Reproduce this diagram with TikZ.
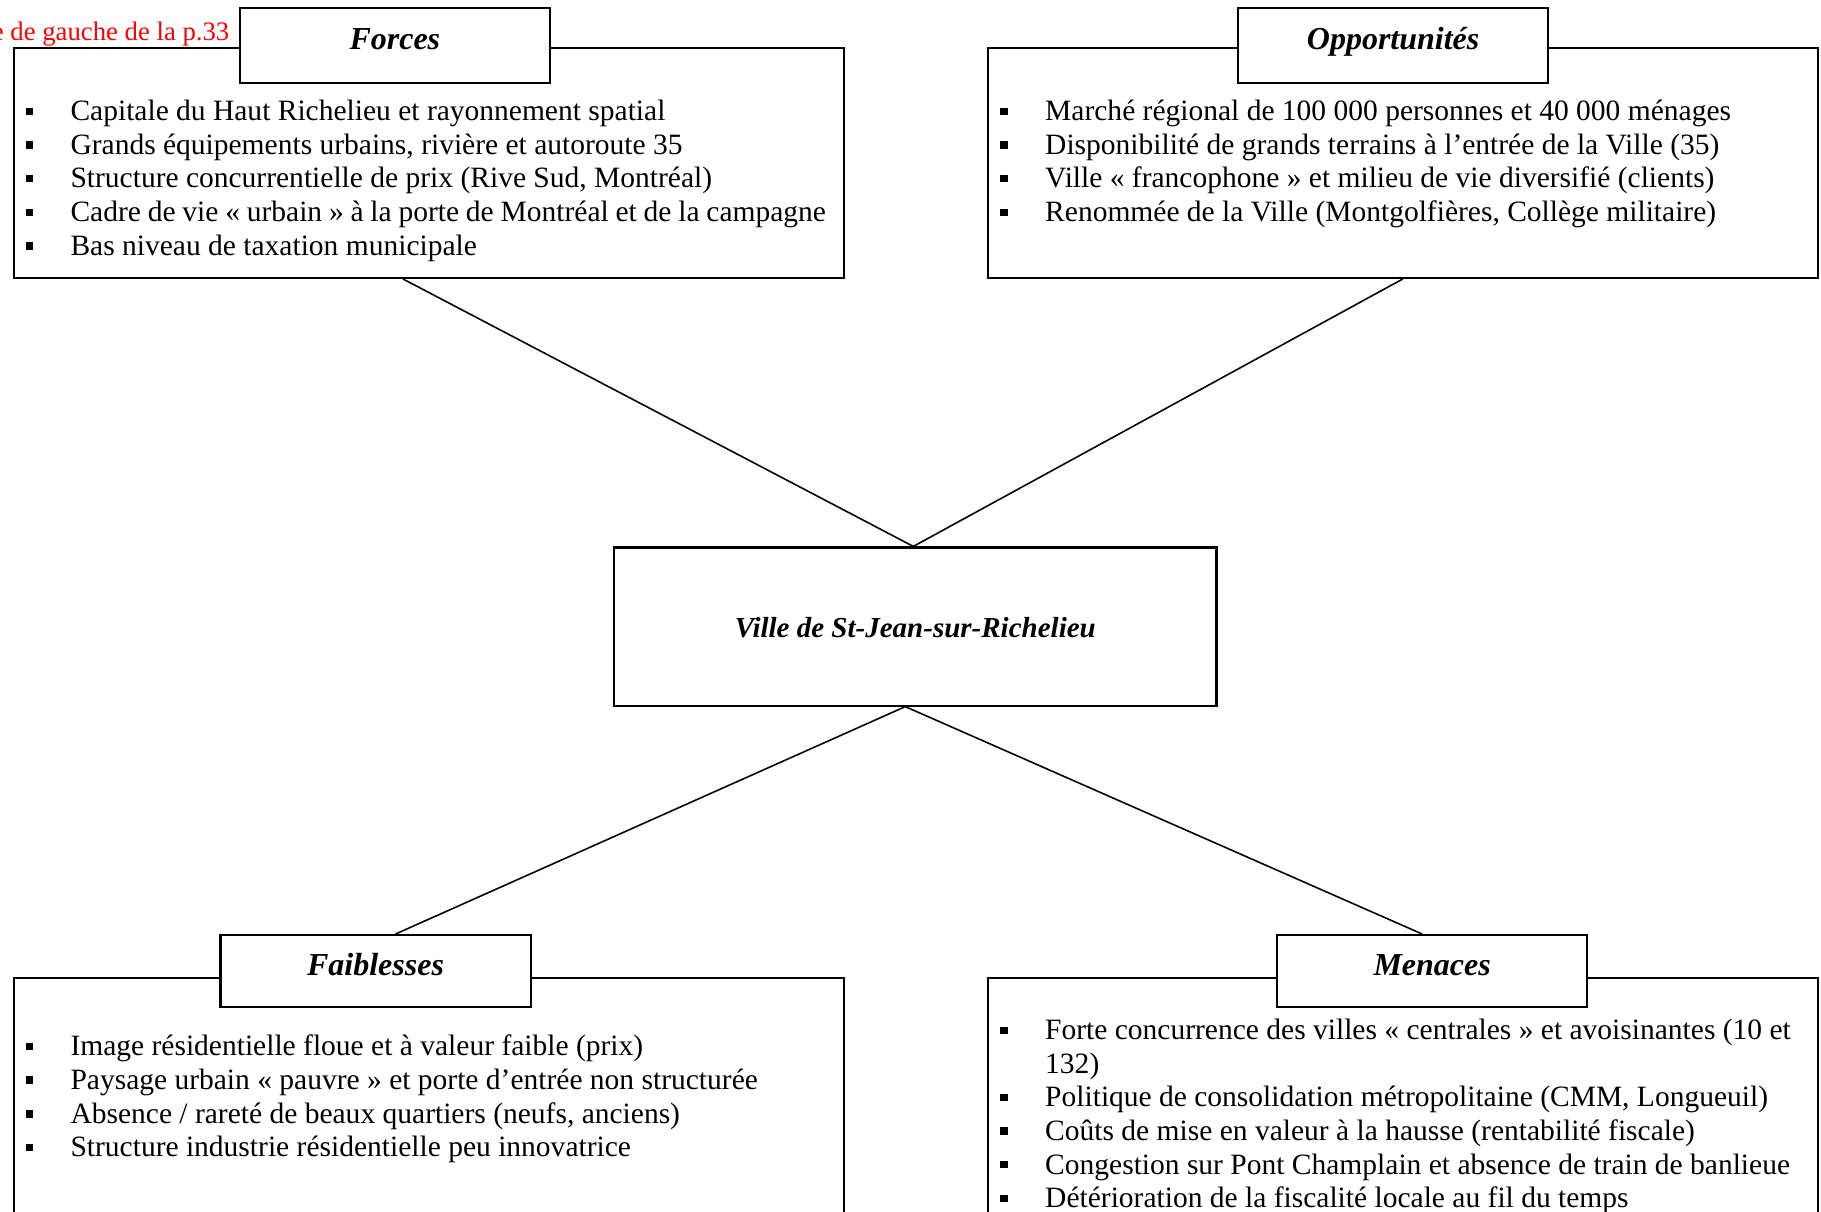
\documentclass[tikz,border=0pt]{standalone}
\usepackage{fontspec}
\setmainfont{Liberation Serif}
\usetikzlibrary{positioning}

\newcommand{\bul}{\makebox[0.45cm][l]{\rule[0.055cm]{0.075cm}{0.075cm}}}

\tikzset{
  frame/.style={draw, line width=0.6pt, inner sep=0pt, minimum width=8.30cm, anchor=north west},
  titlebox/.style={draw, fill=white, line width=0.6pt, inner sep=0pt, anchor=north west,
    minimum width=3.10cm, text height=0.2cm,
    font=\fontsize{9.1}{11}\selectfont\bfseries\itshape},
  items/.style={inner sep=0pt, anchor=base west, font=\fontsize{8.39}{9.56}\selectfont},
}

\begin{document}
\begin{tikzpicture}[x=0.01cm, y=-0.01cm]
  \useasboundingbox (0,0) rectangle (1821,1211);

  % cadres
  \node[frame, minimum height=2.30cm] (forces) at (12.7,46.7) {};
  \node[frame, minimum height=2.30cm] (opport) at (986.5,46.7) {};
  \node[frame, minimum height=2.6cm] (faibl) at (12.7,977.3) {};
  \node[frame, minimum height=2.6cm] (menace) at (986.5,977.3) {};

  % titres
  \node[titlebox, minimum height=0.75cm, text depth=0.136cm] (forcestitle) at (238.7,7.3) {Forces};
  \node[titlebox, minimum height=0.75cm, text depth=0.136cm] (opporttitle) at (1237,7.3) {Opportunités};
  \node[titlebox, minimum height=0.72cm, text depth=0.117cm] (faibltitle) at (219.4,934) {Faiblesses};
  \node[titlebox, minimum height=0.72cm, text depth=0.117cm] (menacetitle) at (1276,934) {Menaces};

  \node[anchor=base east, text=red, inner sep=0pt, font=\fontsize{7.6}{9}\selectfont] (pageref) at (230,40) {e de gauche de la p.33};

  \node[draw, line width=0.6pt, inner sep=0pt, minimum width=6.02cm, minimum height=1.58cm,
    text height=0.21cm, text depth=0cm, font=\fontsize{8.25}{10}\selectfont\bfseries\itshape]
    (ville) at (915.3,626.5) {Ville de St-Jean-sur-Richelieu};

  % listes
  \node[items] (forcesitems) at (24.8,120.7) {\parbox[t]{8cm}{\raggedright
    \bul Capitale du Haut Richelieu et rayonnement spatial\\
    \bul Grands équipements urbains, rivière et autoroute 35\\
    \bul Structure concurrentielle de prix (Rive Sud, Montréal)\\
    \bul Cadre de vie « urbain » à la porte de Montréal et de la campagne\\
    \bul Bas niveau de taxation municipale}};
  \node[items] (opportitems) at (999.5,120.7) {\parbox[t]{8cm}{\raggedright
    \bul Marché régional de 100 000 personnes et 40 000 ménages\\
    \bul Disponibilité de grands terrains à l’entrée de la Ville (35)\\
    \bul Ville « francophone » et milieu de vie diversifié (clients)\\
    \bul Renommée de la Ville (Montgolfières, Collège militaire)}};
  \node[items] (faiblitems) at (24.8,1055.8) {\parbox[t]{8cm}{\raggedright
    \bul Image résidentielle floue et à valeur faible (prix)\\
    \bul Paysage urbain « pauvre » et porte d’entrée non structurée\\
    \bul Absence / rareté de beaux quartiers (neufs, anciens)\\
    \bul Structure industrie résidentielle peu innovatrice}};
  \node[items] (menaceitems) at (999.5,1039.5) {\parbox[t]{8.2cm}{\raggedright
    \bul Forte concurrence des villes « centrales » et avoisinantes (10 et\\
    \hspace*{0.45cm}132)\\
    \bul Politique de consolidation métropolitaine (CMM, Longueuil)\\
    \bul Coûts de mise en valeur à la hausse (rentabilité fiscale)\\
    \bul Congestion sur Pont Champlain et absence de train de banlieue\\
    \bul Détérioration de la fiscalité locale au fil du temps}};

  % liens
  \draw[line width=0.45pt] ([xshift=-0.26cm]forces.south) -- ([xshift=-0.02cm]ville.north);
  \draw[line width=0.45pt] (opport.south) -- ([xshift=-0.02cm]ville.north);
  \draw[line width=0.45pt] ([xshift=-0.1cm]ville.south) -- ([xshift=0.2cm]faibltitle.north);
  \draw[line width=0.45pt] ([xshift=-0.1cm]ville.south) -- ([xshift=-0.1cm]menacetitle.north);
\end{tikzpicture}
\end{document}
